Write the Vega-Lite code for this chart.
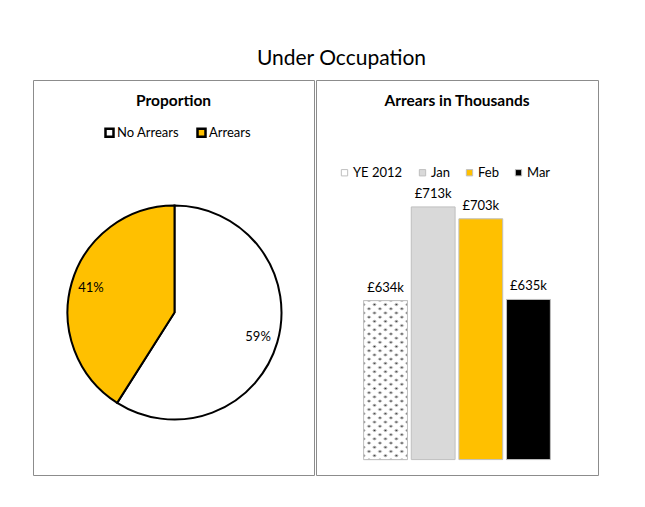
{
  "$schema": "https://vega.github.io/schema/vega-lite/v6.json",
  "background": "white",
  "padding": {"left": 32, "top": 47, "right": 0, "bottom": 0},
  "title": {"text": "Under Occupation", "fontSize": 21, "font": "Lato", "fontWeight": "normal", "color": "#000000", "anchor": "middle", "offset": 11, "dx": 26},
  "config": {
    "font": "Lato",
    "view": {"stroke": "#8c8c8c", "strokeWidth": 1},
    "concat": {"spacing": 0},
    "legend": {"labelFont": "Lato", "labelFontSize": 13, "labelColor": "#000000", "symbolType": "square", "direction": "horizontal", "orient": "none"}
  },
  "resolve": {"scale": {"color": "independent", "theta": "independent"}, "legend": {"color": "independent"}},
  "hconcat": [
    {
      "width": 281,
      "height": 395,
      "view": {"stroke": "#8c8c8c", "strokeWidth": 1},
      "title": {"text": "Proportion", "fontSize": 15.5, "fontWeight": "bold", "font": "Lato", "color": "#000000", "anchor": "middle", "frame": "group", "offset": -29},
      "data": {"values": [
        {"status": "No Arrears", "share": 59, "label": "59%", "rank": 1},
        {"status": "Arrears", "share": 41, "label": "41%", "rank": 2}
      ]},
      "encoding": {
        "theta": {"field": "share", "type": "quantitative", "stack": true},
        "order": {"field": "rank", "type": "quantitative"}
      },
      "layer": [
        {
          "mark": {"type": "arc", "outerRadius": 107, "stroke": "#000000", "strokeWidth": 2, "xOffset": 1, "yOffset": 35},
          "encoding": {
            "color": {"field": "status", "type": "nominal",
              "scale": {"domain": ["No Arrears", "Arrears"], "range": ["#ffffff", "#ffc000"]},
              "legend": {"title": null, "legendX": 70, "legendY": 46, "symbolSize": 64, "symbolStrokeColor": "#000000", "symbolStrokeWidth": 2.5, "columnPadding": 12, "labelOffset": 1}}
          }
        },
        {
          "mark": {"type": "text", "radius": 87, "xOffset": 1, "yOffset": 35, "fontSize": 13, "font": "Lato", "color": "#000000"},
          "encoding": {"text": {"field": "label"}}
        }
      ]
    },
    {
      "width": 282,
      "height": 395,
      "title": {"text": "Arrears in Thousands", "fontSize": 15.5, "fontWeight": "bold", "font": "Lato", "color": "#000000", "anchor": "middle", "frame": "group", "offset": -29},
      "data": {"values": [
        {"period": "YE 2012", "arrears": 634, "label": "£634k"},
        {"period": "Jan", "arrears": 713, "label": "£713k"},
        {"period": "Feb", "arrears": 703, "label": "£703k"},
        {"period": "Mar", "arrears": 635, "label": "£635k"}
      ]},
      "encoding": {
        "x": {"field": "period", "type": "nominal", "sort": null, "axis": null, "scale": {"paddingInner": 0.08, "paddingOuter": 1.0}},
        "y": {"field": "arrears", "type": "quantitative", "axis": null, "scale": {"domain": [487, 820]}}
      },
      "layer": [
        {
          "mark": {"type": "bar", "stroke": "#bfbfbf", "strokeWidth": 1},
          "encoding": {
            "y2": {"datum": 500},
            "color": {"field": "period", "type": "nominal", "sort": null,
              "scale": {"domain": ["YE 2012", "Jan", "Feb", "Mar"], "range": ["#ffffff", "#d9d9d9", "#ffc000", "#000000"]},
              "legend": {"title": null, "legendX": 22, "legendY": 86, "symbolSize": 40, "symbolStrokeColor": "#bfbfbf", "symbolStrokeWidth": 1, "columnPadding": 13, "labelOffset": 2}}
          }
        },
        {
          "transform": [{"filter": "datum.period === 'YE 2012'"}],
          "mark": {"type": "bar", "fill": {"gradient": "linear", "x1": 0, "y1": 1, "x2": 0.2451, "y2": -0.1596, "stops": [
            {"offset": 0, "color": "#ffffff"},
            {"offset": 0.0070, "color": "#ffffff"}, {"offset": 0.0200, "color": "#333333"}, {"offset": 0.0330, "color": "#ffffff"},
            {"offset": 0.0506, "color": "#ffffff"}, {"offset": 0.0636, "color": "#333333"}, {"offset": 0.0766, "color": "#ffffff"},
            {"offset": 0.0942, "color": "#ffffff"}, {"offset": 0.1072, "color": "#333333"}, {"offset": 0.1202, "color": "#ffffff"},
            {"offset": 0.1378, "color": "#ffffff"}, {"offset": 0.1508, "color": "#333333"}, {"offset": 0.1638, "color": "#ffffff"},
            {"offset": 0.1814, "color": "#ffffff"}, {"offset": 0.1944, "color": "#333333"}, {"offset": 0.2074, "color": "#ffffff"},
            {"offset": 0.2250, "color": "#ffffff"}, {"offset": 0.2380, "color": "#333333"}, {"offset": 0.2510, "color": "#ffffff"},
            {"offset": 0.2685, "color": "#ffffff"}, {"offset": 0.2815, "color": "#333333"}, {"offset": 0.2945, "color": "#ffffff"},
            {"offset": 0.3121, "color": "#ffffff"}, {"offset": 0.3251, "color": "#333333"}, {"offset": 0.3381, "color": "#ffffff"},
            {"offset": 0.3557, "color": "#ffffff"}, {"offset": 0.3687, "color": "#333333"}, {"offset": 0.3817, "color": "#ffffff"},
            {"offset": 0.3993, "color": "#ffffff"}, {"offset": 0.4123, "color": "#333333"}, {"offset": 0.4253, "color": "#ffffff"},
            {"offset": 0.4429, "color": "#ffffff"}, {"offset": 0.4559, "color": "#333333"}, {"offset": 0.4689, "color": "#ffffff"},
            {"offset": 0.4865, "color": "#ffffff"}, {"offset": 0.4995, "color": "#333333"}, {"offset": 0.5125, "color": "#ffffff"},
            {"offset": 0.5301, "color": "#ffffff"}, {"offset": 0.5431, "color": "#333333"}, {"offset": 0.5561, "color": "#ffffff"},
            {"offset": 0.5737, "color": "#ffffff"}, {"offset": 0.5867, "color": "#333333"}, {"offset": 0.5997, "color": "#ffffff"},
            {"offset": 0.6173, "color": "#ffffff"}, {"offset": 0.6303, "color": "#333333"}, {"offset": 0.6433, "color": "#ffffff"},
            {"offset": 0.6609, "color": "#ffffff"}, {"offset": 0.6739, "color": "#333333"}, {"offset": 0.6869, "color": "#ffffff"},
            {"offset": 0.7044, "color": "#ffffff"}, {"offset": 0.7174, "color": "#333333"}, {"offset": 0.7304, "color": "#ffffff"},
            {"offset": 0.7480, "color": "#ffffff"}, {"offset": 0.7610, "color": "#333333"}, {"offset": 0.7740, "color": "#ffffff"},
            {"offset": 0.7916, "color": "#ffffff"}, {"offset": 0.8046, "color": "#333333"}, {"offset": 0.8176, "color": "#ffffff"},
            {"offset": 0.8352, "color": "#ffffff"}, {"offset": 0.8482, "color": "#333333"}, {"offset": 0.8612, "color": "#ffffff"},
            {"offset": 0.8788, "color": "#ffffff"}, {"offset": 0.8918, "color": "#333333"}, {"offset": 0.9048, "color": "#ffffff"},
            {"offset": 0.9224, "color": "#ffffff"}, {"offset": 0.9354, "color": "#333333"}, {"offset": 0.9484, "color": "#ffffff"},
            {"offset": 0.9660, "color": "#ffffff"}, {"offset": 0.9790, "color": "#333333"}, {"offset": 0.9920, "color": "#ffffff"},
            {"offset": 1, "color": "#ffffff"}
          ]}},
          "encoding": {"y2": {"datum": 500}}
        },
        {
          "transform": [{"filter": "datum.period === 'YE 2012'"}],
          "mark": {"type": "bar", "stroke": "#bfbfbf", "strokeWidth": 1, "fill": {"gradient": "linear", "x1": 0, "y1": 0, "x2": 0.2451, "y2": 1.1596, "stops": [
            {"offset": 0, "color": "#ffffff"},
            {"offset": 0.0070, "color": "#ffffff"}, {"offset": 0.0200, "color": "rgba(255,255,255,0)"}, {"offset": 0.0330, "color": "#ffffff"},
            {"offset": 0.0506, "color": "#ffffff"}, {"offset": 0.0636, "color": "rgba(255,255,255,0)"}, {"offset": 0.0766, "color": "#ffffff"},
            {"offset": 0.0942, "color": "#ffffff"}, {"offset": 0.1072, "color": "rgba(255,255,255,0)"}, {"offset": 0.1202, "color": "#ffffff"},
            {"offset": 0.1378, "color": "#ffffff"}, {"offset": 0.1508, "color": "rgba(255,255,255,0)"}, {"offset": 0.1638, "color": "#ffffff"},
            {"offset": 0.1814, "color": "#ffffff"}, {"offset": 0.1944, "color": "rgba(255,255,255,0)"}, {"offset": 0.2074, "color": "#ffffff"},
            {"offset": 0.2250, "color": "#ffffff"}, {"offset": 0.2380, "color": "rgba(255,255,255,0)"}, {"offset": 0.2510, "color": "#ffffff"},
            {"offset": 0.2685, "color": "#ffffff"}, {"offset": 0.2815, "color": "rgba(255,255,255,0)"}, {"offset": 0.2945, "color": "#ffffff"},
            {"offset": 0.3121, "color": "#ffffff"}, {"offset": 0.3251, "color": "rgba(255,255,255,0)"}, {"offset": 0.3381, "color": "#ffffff"},
            {"offset": 0.3557, "color": "#ffffff"}, {"offset": 0.3687, "color": "rgba(255,255,255,0)"}, {"offset": 0.3817, "color": "#ffffff"},
            {"offset": 0.3993, "color": "#ffffff"}, {"offset": 0.4123, "color": "rgba(255,255,255,0)"}, {"offset": 0.4253, "color": "#ffffff"},
            {"offset": 0.4429, "color": "#ffffff"}, {"offset": 0.4559, "color": "rgba(255,255,255,0)"}, {"offset": 0.4689, "color": "#ffffff"},
            {"offset": 0.4865, "color": "#ffffff"}, {"offset": 0.4995, "color": "rgba(255,255,255,0)"}, {"offset": 0.5125, "color": "#ffffff"},
            {"offset": 0.5301, "color": "#ffffff"}, {"offset": 0.5431, "color": "rgba(255,255,255,0)"}, {"offset": 0.5561, "color": "#ffffff"},
            {"offset": 0.5737, "color": "#ffffff"}, {"offset": 0.5867, "color": "rgba(255,255,255,0)"}, {"offset": 0.5997, "color": "#ffffff"},
            {"offset": 0.6173, "color": "#ffffff"}, {"offset": 0.6303, "color": "rgba(255,255,255,0)"}, {"offset": 0.6433, "color": "#ffffff"},
            {"offset": 0.6609, "color": "#ffffff"}, {"offset": 0.6739, "color": "rgba(255,255,255,0)"}, {"offset": 0.6869, "color": "#ffffff"},
            {"offset": 0.7044, "color": "#ffffff"}, {"offset": 0.7174, "color": "rgba(255,255,255,0)"}, {"offset": 0.7304, "color": "#ffffff"},
            {"offset": 0.7480, "color": "#ffffff"}, {"offset": 0.7610, "color": "rgba(255,255,255,0)"}, {"offset": 0.7740, "color": "#ffffff"},
            {"offset": 0.7916, "color": "#ffffff"}, {"offset": 0.8046, "color": "rgba(255,255,255,0)"}, {"offset": 0.8176, "color": "#ffffff"},
            {"offset": 0.8352, "color": "#ffffff"}, {"offset": 0.8482, "color": "rgba(255,255,255,0)"}, {"offset": 0.8612, "color": "#ffffff"},
            {"offset": 0.8788, "color": "#ffffff"}, {"offset": 0.8918, "color": "rgba(255,255,255,0)"}, {"offset": 0.9048, "color": "#ffffff"},
            {"offset": 0.9224, "color": "#ffffff"}, {"offset": 0.9354, "color": "rgba(255,255,255,0)"}, {"offset": 0.9484, "color": "#ffffff"},
            {"offset": 0.9660, "color": "#ffffff"}, {"offset": 0.9790, "color": "rgba(255,255,255,0)"}, {"offset": 0.9920, "color": "#ffffff"},
            {"offset": 1, "color": "#ffffff"}
          ]}},
          "encoding": {"y2": {"datum": 500}}
        },
        {
          "mark": {"type": "text", "baseline": "bottom", "dy": -6, "fontSize": 13, "font": "Lato", "color": "#000000"},
          "encoding": {"text": {"field": "label"}}
        }
      ]
    }
  ]
}
